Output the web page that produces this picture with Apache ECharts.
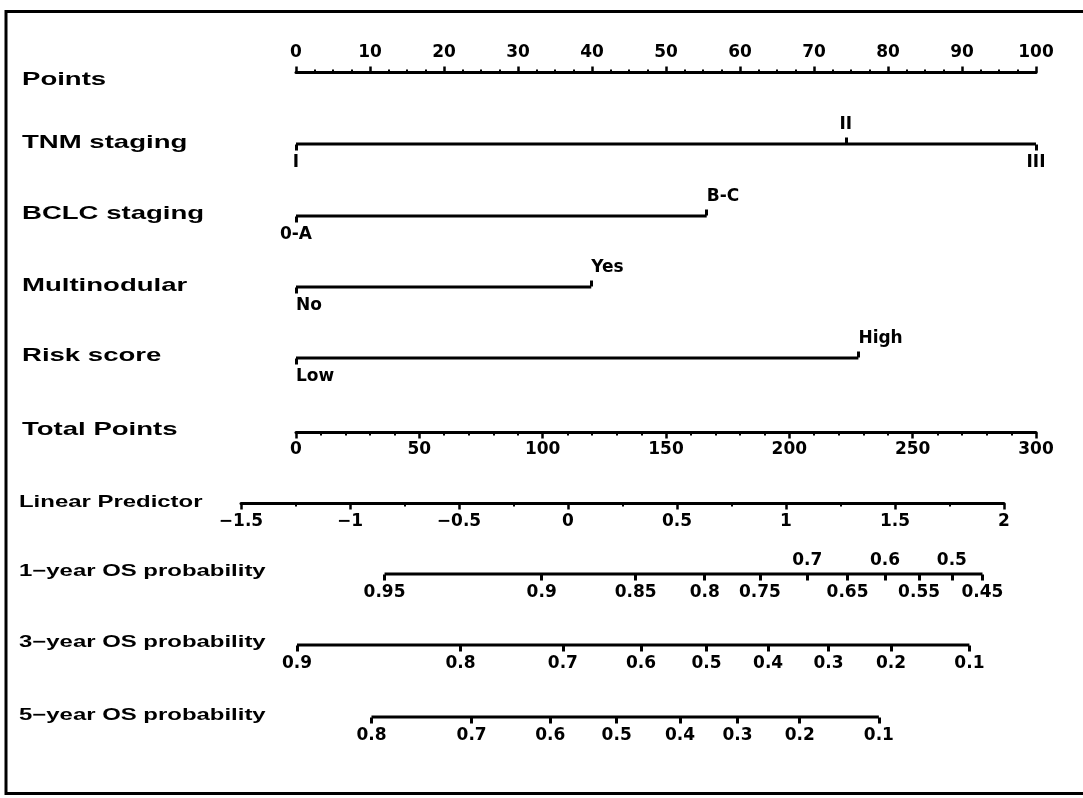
<!DOCTYPE html>
<html>
<head>
<meta charset="utf-8">
<script src="https://cdn.jsdelivr.net/npm/echarts@6/dist/echarts.min.js"></script>
<style>html,body{margin:0;padding:0;background:#fff}#chart{width:1083px;height:798px}</style>
</head>
<body>
<div id="chart"></div>
<script>
// ---------------- data ----------------
const rowTitles = ['Points', 'TNM staging', 'BCLC staging', 'Multinodular', 'Risk score',
  'Total Points', 'Linear Predictor', '1\u2212year OS probability',
  '3\u2212year OS probability', '5\u2212year OS probability'];

const pointsRange = [0, 100];
const pointsStep = 10;
const totalRange = [0, 300];
const totalStep = 50;
const lpRange = [-1.5, 2];
const lpStep = 0.5;

const tnmLabels = ['I', 'II', 'III'];
const tnmPoints = [0, 74.3, 100];
const tnmSides = ['below', 'above', 'below'];

const bclcLabels = ['0-A', 'B-C'];
const bclcPoints = [0, 55.5];
const bclcSides = ['below', 'above'];

const multiLabels = ['No', 'Yes'];
const multiPoints = [0, 39.9];
const multiSides = ['below', 'above'];

const riskLabels = ['Low', 'High'];
const riskPoints = [0, 76.0];
const riskSides = ['below', 'above'];

// survival probability ticks, positioned in total points
const os1Labels = ['0.95', '0.9', '0.85', '0.8', '0.75', '0.7', '0.65', '0.6', '0.55', '0.5', '0.45'];
const os1TotalPoints = [35.9, 99.6, 137.7, 165.7, 188.1, 207.3, 223.6, 238.8, 252.6, 265.9, 278.3];
const os1Sides = ['below', 'below', 'below', 'below', 'below', 'above', 'below', 'above', 'below', 'above', 'below'];

const os3Labels = ['0.9', '0.8', '0.7', '0.6', '0.5', '0.4', '0.3', '0.2', '0.1'];
const os3TotalPoints = [0.4, 66.7, 108.2, 139.9, 166.4, 191.4, 215.9, 241.2, 273.0];

const os5Labels = ['0.8', '0.7', '0.6', '0.5', '0.4', '0.3', '0.2', '0.1'];
const os5TotalPoints = [30.6, 71.2, 103.1, 130.0, 155.7, 179.0, 204.2, 236.3];

// ---------------- layout ----------------
const ROW_Y = [72, 144, 216, 287, 358, 432, 503, 574, 645, 717];
const TITLE_Y = [80, 143, 214, 286, 356, 430, 502, 571, 642, 715];
const AX_LEFT = 296, AX_WIDTH = 740;       // points 0..100 / total 0..300
const LP_LEFT = 241, LP_WIDTH = 763;       // linear predictor -1.5..2
const TICK_FONT = 'DejaVu Sans';
const BLACK = '#000';

const grids = [], xAxes = [], yAxes = [], series = [];

function addGrid(lineY, left, width) {
  const i = grids.length;
  grids.push({ left: left, width: width, top: lineY - 0.5, height: 1, containLabel: false, outerBoundsMode: 'none' });
  yAxes.push({ gridIndex: i, type: 'value', min: 0, max: 1, show: false });
  return i;
}
function lbl(extra) {
  return Object.assign({ show: true, color: BLACK, fontFamily: TICK_FONT, fontWeight: 'bold', fontSize: 17, margin: 10 }, extra || {});
}
function tick(len, w) { return { show: true, length: len, lineStyle: { color: BLACK, width: w } }; }
function nearestLabel(labels, vals) {
  return function (v) {
    let best = 0;
    for (let i = 1; i < vals.length; i++) if (Math.abs(vals[i] - v) < Math.abs(vals[best] - v)) best = i;
    return labels[best];
  };
}
const minus = v => String(v).replace('-', '\u2212');

// Points scale
(function () {
  const g = addGrid(ROW_Y[0], AX_LEFT, AX_WIDTH);
  xAxes.push({ gridIndex: g, type: 'value', position: 'top', min: pointsRange[0], max: pointsRange[1], interval: pointsStep,
    axisLine: { show: true, lineStyle: { color: BLACK, width: 3 } },
    axisTick: tick(6, 2.5), minorTick: { show: true, splitNumber: 4, length: 3, lineStyle: { color: BLACK, width: 2 } },
    axisLabel: lbl({ showMinLabel: true, showMaxLabel: true }), splitLine: { show: false }, minorSplitLine: { show: false } });
})();

// categorical predictor rows + survival rows
function addRow(lineY, labels, vals, sides, range, opts) {
  opts = opts || {};
  const g = addGrid(lineY, AX_LEFT, AX_WIDTH);
  const fmt = nearestLabel(labels, vals);
  const above = vals.filter((v, i) => sides[i] === 'above');
  const below = vals.filter((v, i) => sides[i] === 'below');
  const allTicksBelow = !!opts.allTicksBelow;
  let firstAxis = xAxes.length;
  xAxes.push({ gridIndex: g, type: 'value', position: 'bottom', min: range[0], max: range[1],
    axisLine: { show: false }, splitLine: { show: false },
    axisTick: Object.assign(tick(6, 3), { customValues: allTicksBelow ? vals : below }),
    axisLabel: lbl({ customValues: below, formatter: fmt, align: opts.belowAlign || 'center' }) });
  if (above.length) {
    xAxes.push({ gridIndex: g, type: 'value', position: 'top', min: range[0], max: range[1],
      axisLine: { show: false }, splitLine: { show: false },
      axisTick: Object.assign(tick(6, 3), { show: !allTicksBelow, customValues: above }),
      axisLabel: lbl({ customValues: above, formatter: fmt, align: opts.aboveAlign || 'center', margin: opts.aboveMargin || 10 }) });
  }
  series.push({ type: 'line', xAxisIndex: firstAxis, yAxisIndex: g, symbol: 'none', clip: false, silent: true,
    lineStyle: { color: BLACK, width: 3 },
    data: [[Math.min.apply(null, vals), 0.5], [Math.max.apply(null, vals), 0.5]] });
}

addRow(ROW_Y[1], tnmLabels, tnmPoints, tnmSides, pointsRange);
addRow(ROW_Y[2], bclcLabels, bclcPoints, bclcSides, pointsRange, { aboveAlign: 'left' });
addRow(ROW_Y[3], multiLabels, multiPoints, multiSides, pointsRange, { aboveAlign: 'left', belowAlign: 'left' });
addRow(ROW_Y[4], riskLabels, riskPoints, riskSides, pointsRange, { aboveAlign: 'left', belowAlign: 'left' });

// Total points scale
(function () {
  const g = addGrid(ROW_Y[5], AX_LEFT, AX_WIDTH);
  xAxes.push({ gridIndex: g, type: 'value', position: 'bottom', min: totalRange[0], max: totalRange[1], interval: totalStep,
    axisLine: { show: true, lineStyle: { color: BLACK, width: 3 } },
    axisTick: tick(6, 2.5), minorTick: { show: true, splitNumber: 5, length: 3, lineStyle: { color: BLACK, width: 2 } },
    axisLabel: lbl({ margin: 9, showMinLabel: true, showMaxLabel: true }), splitLine: { show: false }, minorSplitLine: { show: false } });
})();

// Linear predictor scale
(function () {
  const g = addGrid(ROW_Y[6], LP_LEFT, LP_WIDTH);
  xAxes.push({ gridIndex: g, type: 'value', position: 'bottom', min: lpRange[0], max: lpRange[1], interval: lpStep,
    axisLine: { show: true, lineStyle: { color: BLACK, width: 3 } },
    axisTick: tick(6, 2.5), minorTick: { show: true, splitNumber: 2, length: 3, lineStyle: { color: BLACK, width: 2 } },
    axisLabel: lbl({ formatter: minus, showMinLabel: true, showMaxLabel: true }), splitLine: { show: false }, minorSplitLine: { show: false } });
})();

addRow(ROW_Y[7], os1Labels, os1TotalPoints, os1Sides, totalRange, { allTicksBelow: true, aboveMargin: 4 });
addRow(ROW_Y[8], os3Labels, os3TotalPoints, os3Labels.map(() => 'below'), totalRange, { });
addRow(ROW_Y[9], os5Labels, os5TotalPoints, os5Labels.map(() => 'below'), totalRange, { });

// row titles + frame
const graphics = rowTitles.map((t, i) => ({
  type: 'text', x: i < 6 ? 22 : 19, y: TITLE_Y[i], scaleX: 1.45, silent: true,
  style: { text: t, fill: BLACK, fontFamily: 'Liberation Sans', fontWeight: 'bold',
    fontSize: i < 6 ? 19 : 16.5, align: 'left', verticalAlign: 'middle' }
}));
graphics.push({ type: 'rect', silent: true, shape: { x: 6, y: 11.5, width: 1100, height: 782 },
  style: { fill: 'none', stroke: BLACK, lineWidth: 3 } });

const chart = echarts.init(document.getElementById('chart'), null, { renderer: 'canvas' });
chart.setOption({
  animation: false,
  backgroundColor: '#fff',
  grid: grids, xAxis: xAxes, yAxis: yAxes, series: series,
  graphic: graphics
});
</script>
</body>
</html>
